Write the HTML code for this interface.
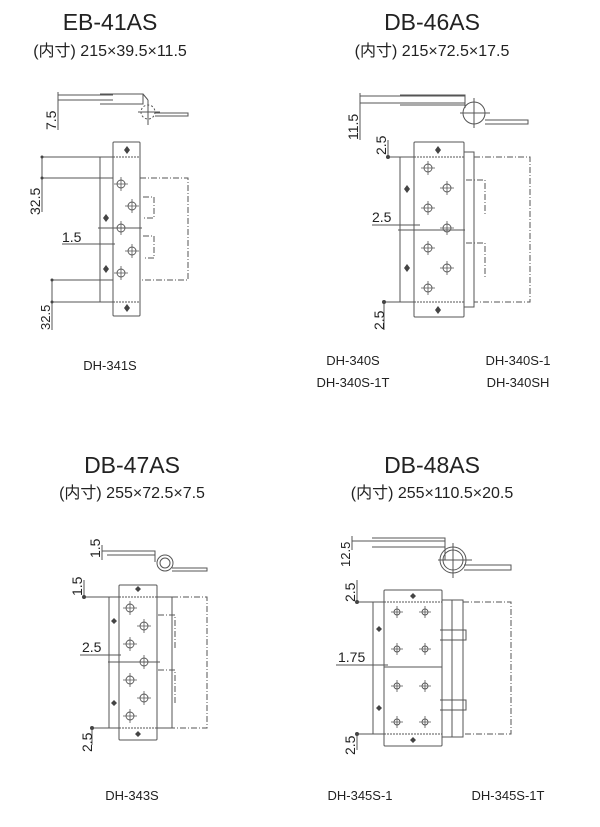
<!DOCTYPE html>
<html><head><meta charset="utf-8"><style>
html,body{margin:0;padding:0;background:#fff;width:600px;height:827px;overflow:hidden}
svg{display:block}
text{font-family:"Liberation Sans","Noto Sans CJK JP",sans-serif;fill:#222}
.t{font-size:23px}.s{font-size:16px}.l{font-size:13px}.d{font-size:14px}
</style></head><body>
<svg width="600" height="827" viewBox="0 0 600 827" xmlns="http://www.w3.org/2000/svg">
<defs>
<g id="h"><circle r="4" fill="none" stroke="#555" stroke-width="0.9"/><path d="M-7 0H7M0 -7V7" stroke="#555" stroke-width="0.8"/></g>
<g id="hs"><circle r="3" fill="none" stroke="#555" stroke-width="0.9"/><path d="M-6 0H6M0 -6V6" stroke="#555" stroke-width="0.8"/></g>
</defs>
<g fill="none" stroke="#555" stroke-width="1">
<!-- Q1 -->
<path d="M58 95H113M58 100H113M100 94H143V104H100M143 94L148 100"/>
<circle cx="148" cy="112" r="7" stroke-dasharray="2 2"/>
<path d="M148 100V125M138 112H160M155 113H188V116H155"/>
<path d="M58 92V103M58 103V130"/>
<rect x="113" y="142" width="27" height="174" rx="1"/>
<rect x="100" y="157" width="13" height="145"/>
<path d="M113 157H140M113 302H140" stroke-dasharray="2 1"/>
<path d="M140 178H188V280H140M143 197H154V218H143M143 236H154V258H143" stroke-dasharray="6 2 1 2"/>
<path d="M42 157H100M42 178H113M42 157V212M52 280H113M52 302H100M52 280V330M62 244H115M98 228H142"/>
<!-- Q2 -->
<path d="M360 96H465M360 103H465M400 95H465V105H400M465 95V108"/>
<circle cx="474" cy="113" r="11"/>
<path d="M474 98V128M460 113H490M485 120H528V124H485"/>
<path d="M360 93V140"/>
<rect x="414" y="142" width="50" height="175" rx="1"/>
<rect x="400" y="157" width="14" height="145"/>
<rect x="464" y="152" width="10" height="155"/>
<path d="M414 157H464M414 302H464" stroke-dasharray="2 1"/>
<path d="M474 157H530V302H474M466 180H485V215M466 243H485V278" stroke-dasharray="6 2 1 2"/>
<path d="M388 157H414M388 157V140M384 302H414M384 302V330M372 225H420M398 230H465"/>
<!-- Q3 -->
<path d="M102 551H155M107 551H155V555H107M155 551V562"/>
<circle cx="165" cy="563" r="8"/><circle cx="165" cy="563" r="5"/>
<path d="M172 568H207V571H172"/>
<path d="M102 545V560"/>
<rect x="119" y="585" width="38" height="155" rx="1"/>
<rect x="109" y="597" width="10" height="131"/>
<rect x="157" y="597" width="15" height="131"/>
<path d="M119 597H157M119 728H157" stroke-dasharray="2 1"/>
<path d="M172 597H207V728H172M158 615H175V650M158 670H175V705" stroke-dasharray="6 2 1 2"/>
<path d="M84 597H119M84 597V580M92 728H119M92 728V745M80 655H121M108 662H160"/>
<!-- Q4 -->
<path d="M352 541H445M372 538H445V547H372M445 538V560"/>
<circle cx="453" cy="560" r="13"/><circle cx="453" cy="560" r="10"/>
<path d="M453 543V578M438 560H472M464 565H511V570H464"/>
<path d="M352 536V550"/>
<rect x="384" y="590" width="58" height="156" rx="1"/>
<rect x="373" y="602" width="11" height="132"/>
<rect x="442" y="600" width="21" height="137"/>
<path d="M384 602H442M384 734H442" stroke-dasharray="2 1"/>
<path d="M463 602H511V734H463" stroke-dasharray="6 2 1 2"/>
<path d="M440 630H466V640H440M440 700H466V710H440M452 600V737"/>
<path d="M357 602H384M357 602V580M357 734H384M357 734V750M336 665H388M384 667H442"/>
</g>
<g fill="#444">
<path d="M127 146l3 4-3 4-3-4zM127 304l3 4-3 4-3-4zM106 214l3 4-3 4-3-4zM106 265l3 4-3 4-3-4z"/>
<path d="M438 146l3 4-3 4-3-4zM438 306l3 4-3 4-3-4zM407 185l3 4-3 4-3-4zM407 264l3 4-3 4-3-4z"/>
<path d="M138 586l3 3-3 3-3-3zM138 731l3 3-3 3-3-3zM114 618l3 3-3 3-3-3zM114 700l3 3-3 3-3-3z"/>
<path d="M413 593l3 3-3 3-3-3zM413 737l3 3-3 3-3-3zM379 626l3 3-3 3-3-3zM379 705l3 3-3 3-3-3z"/>
<circle cx="42" cy="157" r="1.5"/><circle cx="42" cy="178" r="1.5"/><circle cx="52" cy="280" r="1.5"/><circle cx="52" cy="302" r="1.5"/>
<circle cx="388" cy="157" r="2"/><circle cx="384" cy="302" r="2"/><circle cx="84" cy="597" r="2"/><circle cx="92" cy="728" r="2"/>
<circle cx="357" cy="602" r="2"/><circle cx="357" cy="734" r="2"/>
</g>
<use href="#h" x="121" y="184"/><use href="#h" x="132" y="206"/><use href="#h" x="121" y="228"/><use href="#h" x="132" y="251"/><use href="#h" x="121" y="273"/>
<use href="#h" x="428" y="168"/><use href="#h" x="447" y="188"/><use href="#h" x="428" y="208"/><use href="#h" x="447" y="228"/><use href="#h" x="428" y="248"/><use href="#h" x="447" y="268"/><use href="#h" x="428" y="288"/>
<use href="#h" x="130" y="608"/><use href="#h" x="144" y="626"/><use href="#h" x="130" y="644"/><use href="#h" x="144" y="662"/><use href="#h" x="130" y="680"/><use href="#h" x="144" y="698"/><use href="#h" x="130" y="716"/>
<use href="#hs" x="397" y="612"/><use href="#hs" x="425" y="612"/><use href="#hs" x="397" y="649"/><use href="#hs" x="425" y="649"/><use href="#hs" x="397" y="686"/><use href="#hs" x="425" y="686"/><use href="#hs" x="397" y="722"/><use href="#hs" x="425" y="722"/>
<text class="t" x="110" y="30" text-anchor="middle">EB-41AS</text>
<text class="s" x="110" y="56" text-anchor="middle">(内寸) 215×39.5×11.5</text>
<text class="t" x="432" y="30" text-anchor="middle">DB-46AS</text>
<text class="s" x="432" y="56" text-anchor="middle">(内寸) 215×72.5×17.5</text>
<text class="t" x="132" y="473" text-anchor="middle">DB-47AS</text>
<text class="s" x="132" y="498" text-anchor="middle">(内寸) 255×72.5×7.5</text>
<text class="t" x="432" y="473" text-anchor="middle">DB-48AS</text>
<text class="s" x="432" y="498" text-anchor="middle">(内寸) 255×110.5×20.5</text>
<g class="d">
<text transform="translate(56,130) rotate(-90)">7.5</text>
<text transform="translate(40,215) rotate(-90)">32.5</text>
<text x="62" y="242">1.5</text>
<text transform="translate(50,330) rotate(-90)" class="l">32.5</text>
<text transform="translate(358,140) rotate(-90)">11.5</text>
<text transform="translate(386,155) rotate(-90)">2.5</text>
<text x="372" y="222">2.5</text>
<text transform="translate(384,330) rotate(-90)">2.5</text>
<text transform="translate(100,558) rotate(-90)">1.5</text>
<text transform="translate(82,596) rotate(-90)">1.5</text>
<text x="82" y="652">2.5</text>
<text transform="translate(92,752) rotate(-90)">2.5</text>
<text transform="translate(350,567) rotate(-90)" class="l">12.5</text>
<text transform="translate(355,602) rotate(-90)">2.5</text>
<text x="338" y="662">1.75</text>
<text transform="translate(355,755) rotate(-90)">2.5</text>
</g>
<g class="l">
<text x="110" y="370" text-anchor="middle">DH-341S</text>
<text x="353" y="365" text-anchor="middle">DH-340S</text>
<text x="353" y="387" text-anchor="middle">DH-340S-1T</text>
<text x="518" y="365" text-anchor="middle">DH-340S-1</text>
<text x="518" y="387" text-anchor="middle">DH-340SH</text>
<text x="132" y="800" text-anchor="middle">DH-343S</text>
<text x="360" y="800" text-anchor="middle">DH-345S-1</text>
<text x="508" y="800" text-anchor="middle">DH-345S-1T</text>
</g>
</svg>
</body></html>
